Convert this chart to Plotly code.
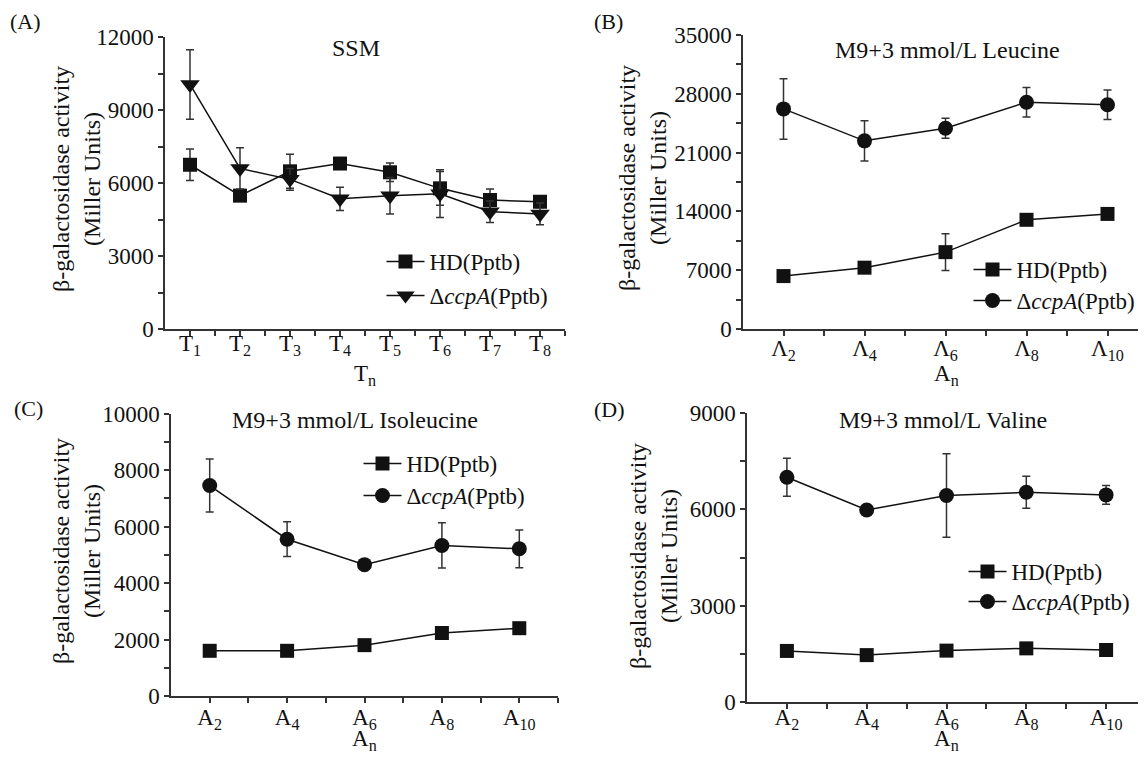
import plotly.graph_objects as go

# ---------------- data ----------------
cats_T = ["T<sub>%d</sub>" % i for i in range(1, 9)]
cats_L = ["Λ<sub>2</sub>", "Λ<sub>4</sub>", "Λ<sub>6</sub>", "Λ<sub>8</sub>", "Λ<sub>10</sub>"]
cats_A = ["A<sub>2</sub>", "A<sub>4</sub>", "A<sub>6</sub>", "A<sub>8</sub>", "A<sub>10</sub>"]

# (A) SSM
a_hd = [6750, 5480, 6480, 6800, 6440, 5780, 5300, 5230]
a_hd_err = [650, 100, 700, 120, 380, 690, 450, 240]
a_cc = [10050, 6600, 6150, 5350, 5480, 5560, 4820, 4730]
a_cc_err = [1430, 850, 450, 480, 750, 980, 440, 450]

# (B) Leucine
b_hd = [6300, 7300, 9150, 13000, 13700]
b_hd_err = [300, 300, 2200, 300, 300]
b_cc = [26200, 22400, 23900, 27000, 26700]
b_cc_err = [3600, 2400, 1200, 1750, 1750]

# (C) Isoleucine
c_hd = [1600, 1600, 1800, 2230, 2400]
c_hd_err = [80, 80, 80, 80, 80]
c_cc = [7450, 5550, 4650, 5330, 5210]
c_cc_err = [940, 615, 100, 800, 670]

# (D) Valine
d_hd = [1590, 1460, 1600, 1670, 1620]
d_hd_err = [80, 80, 80, 80, 80]
d_cc = [7000, 5980, 6430, 6530, 6450]
d_cc_err = [590, 100, 1300, 500, 290]

series_names = ["HD(Pptb)", "Δ<i>ccpA</i>(Pptb)"]
titles = ["SSM", "M9+3 mmol/L Leucine", "M9+3 mmol/L Isoleucine", "M9+3 mmol/L Valine"]
panel_labels = ["(A)", "(B)", "(C)", "(D)"]
x_titles = ["T<sub>n</sub>", "A<sub>n</sub>", "A<sub>n</sub>", "A<sub>n</sub>"]
y_title = "β-galactosidase activity<br>(Miller Units)"
y_ticks_A = [0, 3000, 6000, 9000, 12000]
y_ticks_B = [0, 7000, 14000, 21000, 28000, 35000]
y_ticks_C = [0, 2000, 4000, 6000, 8000, 10000]
y_ticks_D = [0, 3000, 6000, 9000]

# ---------------- layout helpers ----------------
# page body has an 8px margin, so the figure is 16px smaller than the window
OFF = 8
W, H = 1146 - 2 * OFF, 760 - 2 * OFF
FONT = "Liberation Serif, Times New Roman, serif"
AX = "#333333"
MK = "#111111"
FS = 23
FT = 24
FL = 23


def fx(x):
    return (x - OFF) / W


def fy(y):
    return 1 - (y - OFF) / H


fig = go.Figure()

panels = [
    dict(cats=cats_T, hd=a_hd, hde=a_hd_err, cc=a_cc, cce=a_cc_err, cc_sym="triangle-down",
         xpx=(165, 565), step=50, ypx=(329, 37), yt=y_ticks_A,
         leg_x=403, leg_y=(263, 297), tls=-12),
    dict(cats=cats_L, hd=b_hd, hde=b_hd_err, cc=b_cc, cce=b_cc_err, cc_sym="circle",
         xpx=(743, 1138), step=81, ypx=(329, 35), yt=y_ticks_B,
         leg_x=990, leg_y=(271, 302), tls=-7),
    dict(cats=cats_A, hd=c_hd, hde=c_hd_err, cc=c_cc, cce=c_cc_err, cc_sym="circle",
         xpx=(171, 558), step=77.4, ypx=(696, 413.5), yt=y_ticks_C,
         leg_x=380, leg_y=(465, 497), tls=-5),
    dict(cats=cats_A, hd=d_hd, hde=d_hd_err, cc=d_cc, cce=d_cc_err, cc_sym="circle",
         xpx=(747, 1138), step=79.8, ypx=(702, 413), yt=y_ticks_D,
         leg_x=985, leg_y=(573, 603), tls=-11),
]

leg_count = 0
for i, p in enumerate(panels):
    n = len(p["cats"])
    xs = list(range(1, n + 1))
    sfx = "" if i == 0 else str(i + 1)
    xa, ya = "x" + sfx, "y" + sfx
    cc_size = 17 if p["cc_sym"] == "triangle-down" else 15
    traces = [
        (p["hd"], p["hde"], "square", 14),
        (p["cc"], p["cce"], p["cc_sym"], cc_size),
    ]
    for k, (vals, errs, sym, size) in enumerate(traces):
        leg_count += 1
        lname = "legend" if leg_count == 1 else "legend%d" % leg_count
        fig.add_trace(go.Scatter(
            x=xs, y=vals, mode="lines+markers", name=series_names[k],
            xaxis=xa, yaxis=ya, legend=lname, showlegend=True,
            line=dict(color=MK, width=1.5),
            marker=dict(symbol=sym, size=size, color=MK),
            error_y=dict(type="data", array=errs, color=AX, thickness=1.5, width=4),
        ))
        fig.update_layout(**{lname: dict(
            x=fx(p["leg_x"] - 21.5), y=fy(p["leg_y"][k] - 23), xanchor="left", yanchor="top",
            bgcolor="rgba(0,0,0,0)", borderwidth=0, itemwidth=38, visible=True,
            font=dict(family=FONT, size=FL, color=MK),
        )})

    x0, x1 = p["xpx"]
    ybot, ytop = p["ypx"]
    rng_hi = 0.5 + (x1 - x0) / p["step"]
    yt = p["yt"]
    ystep = yt[1] - yt[0]
    axis_common = dict(
        showline=True, linecolor=AX, linewidth=1.5, showgrid=False, zeroline=False,
        ticks="outside", ticklen=5, tickwidth=1.5, tickcolor=AX, automargin=False,
        tickfont=dict(family=FONT, size=FS, color=MK),
    )
    minor_x = [v + 0.5 for v in xs if v + 0.5 <= rng_hi]
    fig.update_layout(**{
        "xaxis" + sfx: dict(
            domain=[fx(x0), fx(x1)], range=[0.5, rng_hi], anchor=ya,
            tickvals=xs, ticktext=p["cats"], ticklabelstandoff=p["tls"],
            minor=dict(tickvals=minor_x, ticks="outside", ticklen=5, tickwidth=1.5, tickcolor=AX),
            **axis_common),
        "yaxis" + sfx: dict(
            domain=[fy(ybot), fy(ytop)], range=[0, yt[-1]], anchor=xa,
            tickvals=yt, ticktext=[str(v) for v in yt],
            minor=dict(tickvals=[v + ystep / 2 for v in yt[:-1]],
                       ticks="outside", ticklen=5, tickwidth=1.5, tickcolor=AX),
            **axis_common),
    })

annots = []
for lab, (x, y) in zip(panel_labels, [(8, 22), (592, 22), (12, 408), (592, 409)]):
    annots.append(dict(text=lab, x=fx(x), y=fy(y), xref="paper", yref="paper",
                       xanchor="left", yanchor="middle", showarrow=False,
                       font=dict(family=FONT, size=22, color=MK)))
for t, (x, y) in zip(titles, [(330, 48), (833, 50), (230, 420), (837, 420)]):
    annots.append(dict(text=t, x=fx(x), y=fy(y), xref="paper", yref="paper",
                       xanchor="left", yanchor="middle", showarrow=False,
                       font=dict(family=FONT, size=FT, color=MK)))
for (x, y) in [(76, 179), (642, 178), (76, 551), (653, 556)]:
    annots.append(dict(text=y_title, x=fx(x), y=fy(y),
                       xref="paper", yref="paper", xanchor="center", yanchor="middle",
                       textangle=-90, showarrow=False,
                       font=dict(family=FONT, size=24, color=MK)))
for t, (x, y) in zip(x_titles, [(365, 359), (946, 359), (364, 724), (946, 724)]):
    annots.append(dict(text=t, x=fx(x), y=fy(y), xref="paper", yref="paper",
                       xanchor="center", yanchor="top", showarrow=False,
                       font=dict(family=FONT, size=FS, color=MK)))

fig.update_layout(
    width=W, height=H, margin=dict(l=0, r=0, t=0, b=0, autoexpand=False),
    paper_bgcolor="white", plot_bgcolor="white", showlegend=True,
    font=dict(family=FONT, size=FS, color=MK),
    annotations=annots,
)

fig.write_html("out.html")
